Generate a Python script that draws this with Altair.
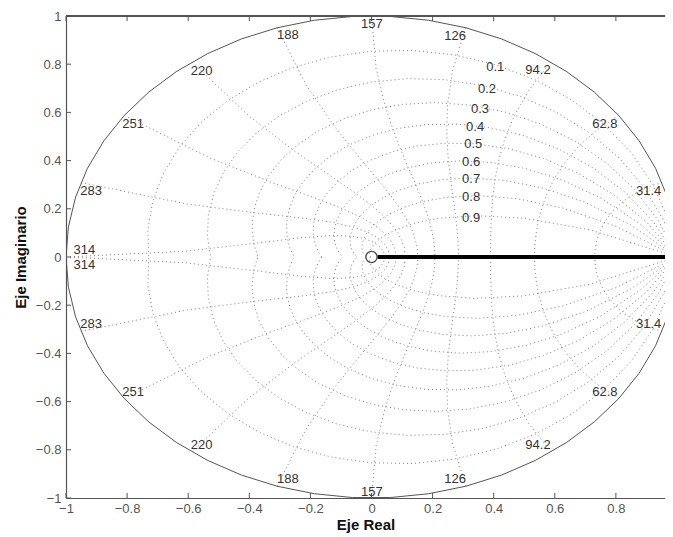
import numpy as np
import pandas as pd
import altair as alt

# ---- values -------------------------------------------------------------
zeta_values = [0.1, 0.2, 0.3, 0.4, 0.5, 0.6, 0.7, 0.8, 0.9]
zeta_label_x = [0.405, 0.378, 0.355, 0.339, 0.333, 0.326, 0.326, 0.326, 0.326]
zeta_label_y = [0.790, 0.698, 0.615, 0.541, 0.468, 0.395, 0.325, 0.250, 0.163]

wn_steps = [1, 2, 3, 4, 5, 6, 7, 8, 9, 10]          # wn*T = k*pi/10
wn_labels = ["31.4", "62.8", "94.2", "126", "157", "188", "220", "251", "283", "314"]
wn_label_x = [0.907, 0.764, 0.545, 0.274, 0.001, -0.274, -0.556, -0.780, -0.918, -0.940]
wn_label_y_top = [0.275, 0.553, 0.776, 0.918, 0.967, 0.920, 0.773, 0.553, 0.274, 0.029]
wn_label_y_bot = [-0.278, -0.561, -0.780, -0.921, -0.976, -0.921, -0.781, -0.561, -0.279, -0.034]

locus_x = [0.02, 1.0]
locus_y = [0.0, 0.0]
zero_x = [0.0]
zero_y = [0.0]

x_ticks = [-1, -0.8, -0.6, -0.4, -0.2, 0, 0.2, 0.4, 0.6, 0.8]
y_ticks = [-1, -0.8, -0.6, -0.4, -0.2, 0, 0.2, 0.4, 0.6, 0.8, 1]

# ---- zgrid curves (as MATLAB zgrid builds them) ---------------------------
rows = []
cid = 0
t = np.arange(0, np.pi + 1e-9, np.pi / 20)
for z in zeta_values:
    m = np.tan(np.arcsin(z))
    zz = np.exp(t * (-m + 1j))
    for sgn in (1, -1):
        for i, p in enumerate(zz):
            rows.append({"x": p.real, "y": sgn * p.imag, "c": cid, "o": i})
        cid += 1
th = np.arange(np.pi / 2, np.pi + 1e-9, np.pi / 20)
for k in wn_steps:
    wn = k * np.pi / 10
    zz = np.exp(wn * np.exp(1j * th))
    for sgn in (1, -1):
        for i, p in enumerate(zz):
            rows.append({"x": p.real, "y": sgn * p.imag, "c": cid, "o": i})
        cid += 1
grid_df = pd.DataFrame(rows)

ang = np.linspace(0, 2 * np.pi, 51)
circle_df = pd.DataFrame({"x": np.cos(ang), "y": np.sin(ang), "o": np.arange(len(ang))})

labels_df = pd.DataFrame({
    "x": zeta_label_x + wn_label_x + wn_label_x,
    "y": zeta_label_y + wn_label_y_top + wn_label_y_bot,
    "t": [str(z) for z in zeta_values] + wn_labels + wn_labels,
})
locus_df = pd.DataFrame({"x": locus_x, "y": locus_y})
zero_df = pd.DataFrame({"x": zero_x, "y": zero_y})
xt_df = pd.DataFrame({"x": x_ticks})
yt_df = pd.DataFrame({"y": y_ticks})

W, H = 599, 482
FONT = "Liberation Sans"
xscale = alt.Scale(domain=[-1, -1 + W / 305.5], nice=False, zero=False)
yscale = alt.Scale(domain=[-1, 1], nice=False, zero=False)
xaxis = alt.Axis(title="Eje Real", values=x_ticks, format=".1~f", ticks=False,
                 labelPadding=4, labelFlush=False, titleY=31, titleBaseline="alphabetic")
yaxis = alt.Axis(title="Eje Imaginario", values=y_ticks, format=".1~f", ticks=False,
                 labelPadding=5, labelFlush=False, titleX=-41, titleBaseline="alphabetic")


def X(f="x"):
    return alt.X(f, type="quantitative", scale=xscale, axis=xaxis)


def Y(f="y"):
    return alt.Y(f, type="quantitative", scale=yscale, axis=yaxis)


grid = alt.Chart(grid_df).mark_line(
    clip=True, color="#808080", strokeWidth=1, strokeDash=[1, 3]
).encode(x=X(), y=Y(), detail="c:N", order="o:Q")

circle = alt.Chart(circle_df).mark_line(
    clip=True, color="#555", strokeWidth=1
).encode(x=X(), y=Y(), order="o:Q")

labels = alt.Chart(labels_df).mark_text(
    font=FONT, fontSize=13, color="#333", align="center", baseline="middle"
).encode(x=X(), y=Y(), text="t:N")

locus = alt.Chart(locus_df).mark_line(
    clip=True, color="black", strokeWidth=4
).encode(x=X(), y=Y())

zero = alt.Chart(zero_df).mark_point(
    shape="circle", size=125, color="black", strokeWidth=1.3, filled=False
).encode(x=X(), y=Y())

top_border = alt.Chart(xt_df).mark_rule(color="#555", strokeWidth=1.2).encode(
    x=alt.value(0), x2=alt.value(W), y=alt.value(0)
)
bot_ticks = alt.Chart(xt_df).mark_rule(color="#555").encode(
    x=X(), y=alt.value(H), y2=alt.value(H - 5)
)
top_ticks = alt.Chart(xt_df).mark_rule(color="#555").encode(
    x=X(), y=alt.value(0), y2=alt.value(5)
)
left_ticks = alt.Chart(yt_df).mark_rule(color="#555").encode(
    y=Y(), x=alt.value(0), x2=alt.value(5)
)

chart = alt.layer(
    grid, circle, labels, locus, zero, top_border, bot_ticks, top_ticks, left_ticks
).properties(
    width=W, height=H,
    autosize=alt.AutoSizeParams(type="none"),
    padding={"left": 58, "top": 8, "right": 0, "bottom": 38},
).configure_view(stroke=None).configure_axis(
    labelFont=FONT, labelFontSize=13, labelColor="#555",
    domainColor="#555", domainWidth=1.2, grid=False,
    titleFont=FONT, titleFontSize=15, titleFontWeight="bold", titleColor="#111",
)

chart.save("out.html", embed_options={"renderer": "svg", "actions": False})
